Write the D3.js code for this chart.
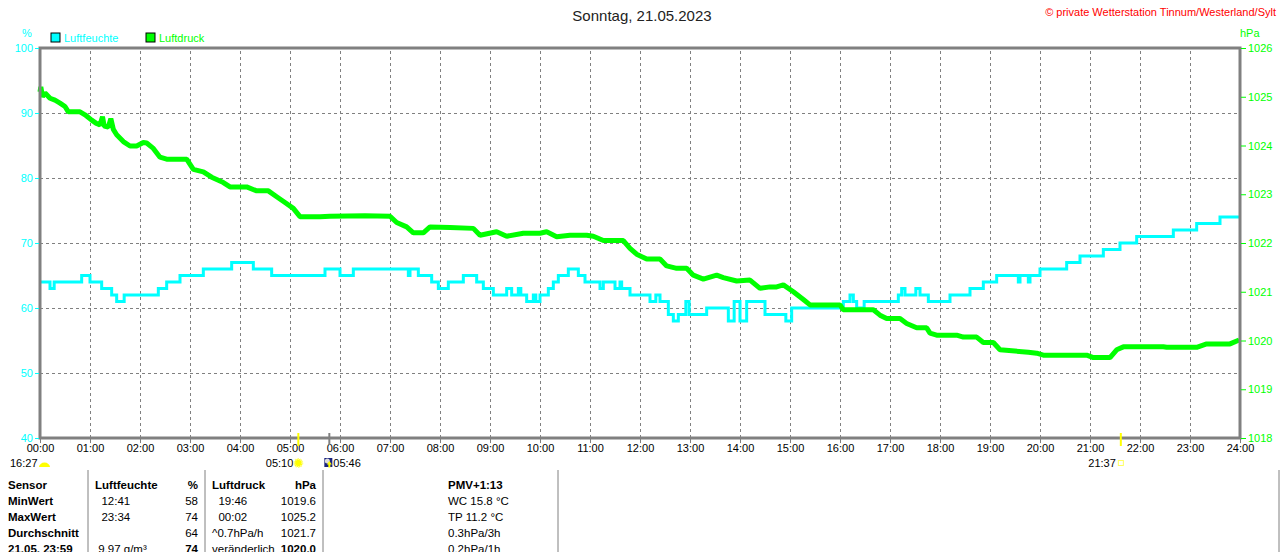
<!DOCTYPE html>
<html>
<head>
<meta charset="utf-8">
<script src="https://cdn.jsdelivr.net/npm/d3@7.9.0/dist/d3.min.js"></script>
<style>
  body { margin: 0; background: #fff; }
  svg { display: block; font-family: "Liberation Sans", Arial, sans-serif; }
  .grid line { stroke: #808080; stroke-dasharray: 3,3; }
  .grid .domain { display: none; }
  .tbl text { font-size: 11.5px; fill: #000; }
  .tbl .b { font-weight: bold; }
</style>
</head>
<body>
<div id="chart"></div>
<script>
// ---------- Data ----------
const hourLabels = d3.range(0, 25).map(h => String(h).padStart(2, "0") + ":00");
const humTicks = [40, 50, 60, 70, 80, 90, 100];
const presTicks = [1018, 1019, 1020, 1021, 1022, 1023, 1024, 1025, 1026];

// Luftfeuchte (%) - change points [time, value]
const luftfeuchte = [
  ["00:00",64],["00:12",63],["00:17",64],["00:50",65],["01:00",64],["01:14",63],["01:26",62],
  ["01:32",61],["01:41",62],["02:22",63],["02:32",64],["02:48",65],["03:16",66],["03:50",67],
  ["04:16",66],["04:38",65],["05:42",66],["06:00",65],["06:16",66],["07:22",65],["07:24",66],
  ["07:34",65],["07:50",64],["07:58",63],["08:10",64],["08:28",65],["08:44",64],["08:52",63],
  ["09:04",62],["09:20",63],["09:26",62],["09:34",63],["09:37",62],["09:44",61],["09:52",62],
  ["09:55",61],["10:00",62],["10:10",63],["10:16",64],["10:22",65],["10:34",66],["10:46",65],
  ["10:54",64],["11:12",63],["11:16",64],["11:30",63],["11:36",64],["11:38",63],["11:48",62],
  ["12:12",61],["12:19",62],["12:24",61],["12:34",59],["12:40",58],["12:46",59],["12:55",61],
  ["12:59",59],["13:20",60],["13:46",58],["13:53",61],["14:00",58],["14:08",61],["14:30",59],
  ["14:55",58],["15:02",60],["16:04",61],["16:12",62],["16:16",61],["16:20",60],["16:29",61],
  ["17:10",62],["17:14",63],["17:18",62],["17:31",63],["17:36",62],["17:46",61],["18:12",62],
  ["18:36",63],["18:52",64],["19:08",65],["19:34",64],["19:36",65],["19:46",64],["19:48",65],
  ["20:00",66],["20:32",67],["20:48",68],["21:16",69],["21:36",70],["21:56",71],["22:40",72],
  ["23:08",73],["23:36",74],["24:00",74]
];

// Luftdruck (hPa) - readings [time, value]
const luftdruck = [
  ["00:00",1025.10],["00:01",1025.20],["00:03",1025.00],["00:06",1025.08],["00:12",1024.97],
  ["00:18",1024.93],["00:24",1024.87],["00:30",1024.80],["00:34",1024.69],["00:48",1024.69],
  ["00:54",1024.63],["01:02",1024.52],["01:08",1024.45],["01:12",1024.42],["01:15",1024.59],
  ["01:17",1024.40],["01:22",1024.38],["01:25",1024.55],["01:28",1024.33],["01:32",1024.22],
  ["01:40",1024.08],["01:48",1023.99],["01:56",1023.99],["02:04",1024.06],["02:08",1024.05],
  ["02:16",1023.94],["02:24",1023.76],["02:32",1023.72],["02:56",1023.72],["03:04",1023.51],
  ["03:16",1023.46],["03:26",1023.35],["03:40",1023.24],["03:48",1023.15],["04:08",1023.15],
  ["04:20",1023.07],["04:34",1023.07],["04:44",1022.95],["04:54",1022.83],["05:04",1022.71],
  ["05:12",1022.54],["05:36",1022.54],["05:48",1022.55],["06:30",1022.56],["07:00",1022.55],
  ["07:08",1022.42],["07:20",1022.33],["07:28",1022.21],["07:40",1022.21],["07:48",1022.33],
  ["08:12",1022.32],["08:40",1022.30],["08:48",1022.16],["09:08",1022.23],["09:20",1022.14],
  ["09:40",1022.20],["10:00",1022.20],["10:08",1022.23],["10:20",1022.13],["10:36",1022.16],
  ["10:56",1022.16],["11:04",1022.14],["11:16",1022.05],["11:40",1022.05],["11:48",1021.89],
  ["11:56",1021.77],["12:08",1021.67],["12:24",1021.67],["12:32",1021.53],["12:44",1021.48],
  ["12:56",1021.48],["13:04",1021.34],["13:16",1021.26],["13:32",1021.34],["13:40",1021.29],
  ["13:56",1021.22],["14:12",1021.24],["14:24",1021.07],["14:36",1021.10],["14:44",1021.10],
  ["14:52",1021.14],["15:04",1021.00],["15:16",1020.84],["15:24",1020.73],["16:00",1020.73],
  ["16:04",1020.63],["16:40",1020.63],["16:48",1020.52],["16:56",1020.45],["17:12",1020.45],
  ["17:20",1020.35],["17:32",1020.26],["17:44",1020.26],["17:48",1020.15],["17:56",1020.11],
  ["18:20",1020.11],["18:28",1020.07],["18:44",1020.07],["18:52",1019.96],["19:04",1019.96],
  ["19:12",1019.81],["19:46",1019.76],["19:56",1019.74],["20:04",1019.70],["20:56",1019.70],
  ["21:04",1019.65],["21:24",1019.65],["21:32",1019.81],["21:40",1019.87],["22:28",1019.87],
  ["22:32",1019.86],["23:08",1019.86],["23:20",1019.93],["23:48",1019.93],["23:59",1020.01]
];

// sun / moon markers under the time axis
const markers = [
  { time: "05:10", label: "05:10", kind: "sunrise" },
  { time: "05:46", label: "05:46", kind: "moon" },
  { time: "21:37", label: "21:37", kind: "sunset" }
];

// table rows
const tableRows = [
  ["Sensor", "Luftfeuchte", "%", "Luftdruck", "hPa", "PMV+1:13"],
  ["MinWert", "  12:41", "58", "  19:46", "1019.6", "WC 15.8 °C"],
  ["MaxWert", "  23:34", "74", "  00:02", "1025.2", "TP 11.2 °C"],
  ["Durchschnitt", "", "64", "^0.7hPa/h", "1021.7", "0.3hPa/3h"],
  ["21.05. 23:59", " 9.97 g/m³", "74", "veränderlich", "1020.0", "0.2hPa/1h"]
];

// ---------- Helpers ----------
const toHours = s => { const [h, m] = s.split(":").map(Number); return h + m / 60; };

// ---------- Chart ----------
const width = 1280, height = 552;
const plot = { left: 40, right: 1240, top: 48, bottom: 438 };
const CYAN = "#00ffff", GREEN = "#00ff00", GRAY = "#808080";

const svg = d3.select("#chart").append("svg")
  .attr("width", width).attr("height", height);

const x = d3.scaleLinear().domain([0, 24]).range([plot.left, plot.right]);
const yHum = d3.scaleLinear().domain([40, 100]).range([plot.bottom, plot.top]);
const yPres = d3.scaleLinear().domain([1018, 1026]).range([plot.bottom, plot.top]);

// title + credit
svg.append("text").attr("x", 642).attr("y", 21).attr("text-anchor", "middle")
  .style("font-size", "15px").attr("fill", "#222").text("Sonntag, 21.05.2023");
svg.append("text").attr("x", 1276).attr("y", 16).attr("text-anchor", "end")
  .style("font-size", "11px").attr("fill", "#ff0000")
  .text("© private Wetterstation Tinnum/Westerland/Sylt");

// unit labels
svg.append("text").attr("x", 27).attr("y", 37).attr("text-anchor", "middle")
  .style("font-size", "11px").attr("fill", CYAN).text("%");
svg.append("text").attr("x", 1240).attr("y", 37)
  .style("font-size", "11px").attr("fill", GREEN).text("hPa");

// legend
const legend = [["Luftfeuchte", CYAN, 51], ["Luftdruck", GREEN, 146]];
legend.forEach(([name, col, lx]) => {
  svg.append("rect").attr("x", lx).attr("y", 33).attr("width", 9).attr("height", 9)
    .attr("fill", col).attr("stroke", "#000").attr("stroke-width", 1);
  svg.append("text").attr("x", lx + 13).attr("y", 42)
    .style("font-size", "11px").attr("fill", col).text(name);
});

// grid
svg.append("g").attr("class", "grid")
  .attr("transform", `translate(0,${plot.bottom})`)
  .call(d3.axisBottom(x).tickValues(d3.range(1, 24)).tickFormat("").tickSize(-(plot.bottom - plot.top)));
svg.append("g").attr("class", "grid")
  .attr("transform", `translate(${plot.left},0)`)
  .call(d3.axisLeft(yHum).tickValues(humTicks.slice(1, -1)).tickFormat("").tickSize(-(plot.right - plot.left)));

// lines
const humLine = d3.line()
  .x(d => x(toHours(d[0]))).y(d => yHum(d[1]))
  .curve(d3.curveStepAfter);
const presLine = d3.line()
  .x(d => x(toHours(d[0]))).y(d => yPres(d[1]));

svg.append("path").datum(luftfeuchte).attr("d", humLine)
  .attr("fill", "none").attr("stroke", CYAN).attr("stroke-width", 3);
svg.append("path").datum(luftdruck).attr("d", presLine)
  .attr("fill", "none").attr("stroke", GREEN).attr("stroke-width", 5)
  .attr("stroke-linejoin", "bevel");

// frame
svg.append("rect").attr("x", plot.left).attr("y", plot.top)
  .attr("width", plot.right - plot.left).attr("height", plot.bottom - plot.top)
  .attr("fill", "none").attr("stroke", GRAY).attr("stroke-width", 3);

// left axis
const gl = svg.append("g").attr("transform", `translate(${plot.left - 1},0)`)
  .call(d3.axisLeft(yHum).tickValues(humTicks).tickSize(4).tickPadding(2));
gl.select(".domain").remove();
gl.selectAll("line").attr("stroke", CYAN);
gl.selectAll("text").attr("fill", CYAN).style("font-size", "11px").attr("font-family", null);

// right axis
const gr = svg.append("g").attr("transform", `translate(${plot.right + 1},0)`)
  .call(d3.axisRight(yPres).tickValues(presTicks).tickFormat(d3.format("d")).tickSize(5).tickPadding(2));
gr.select(".domain").remove();
gr.selectAll("line").attr("stroke", GREEN);
gr.selectAll("text").attr("fill", GREEN).style("font-size", "11px").attr("font-family", null);

// bottom axis
const gb = svg.append("g").attr("transform", `translate(0,${plot.bottom + 1})`)
  .call(d3.axisBottom(x).tickValues(d3.range(0, 25)).tickFormat((d, i) => hourLabels[i]).tickSize(4).tickPadding(1));
gb.select(".domain").remove();
gb.selectAll("line").attr("stroke", GRAY);
gb.selectAll("text").attr("fill", "#000").style("font-size", "11px").attr("font-family", null);

// previous-day moon marker at the left
svg.append("text").attr("x", 10).attr("y", 467).style("font-size", "11px").text("16:27");
svg.append("path").attr("d", "M39,467 a5,4 0 0 1 11,0 z").attr("fill", "#ffff00");

// sun / moon markers
markers.forEach(m => {
  const mx = x(toHours(m.time));
  if (m.kind === "moon") {
    svg.append("line").attr("x1", mx + 1).attr("x2", mx + 1).attr("y1", 433).attr("y2", 445)
      .attr("stroke", GRAY).attr("stroke-width", 2);
    svg.append("rect").attr("x", mx - 4).attr("y", 458).attr("width", 8).attr("height", 9).attr("fill", "#1a237e");
    svg.append("circle").attr("cx", mx - 1).attr("cy", 461).attr("r", 2.5).attr("fill", "#ddd");
    svg.append("path").attr("d", `M${mx + 1},461 l-2.5,3.5 h1.5 v3 h2 v-3 h1.5 z`).attr("fill", "#ffff00");
    svg.append("text").attr("x", mx + 5).attr("y", 467).style("font-size", "11px").text(m.label);
  } else {
    svg.append("line").attr("x1", mx).attr("x2", mx).attr("y1", 433).attr("y2", 446)
      .attr("stroke", "#ffff00").attr("stroke-width", 2);
    svg.append("text").attr("x", mx - 5).attr("y", 467).attr("text-anchor", "end")
      .style("font-size", "11px").text(m.label);
    if (m.kind === "sunrise") {
      svg.append("circle").attr("cx", mx).attr("cy", 463).attr("r", 4).attr("fill", "#ffff00")
        .attr("stroke", "#ffff80").attr("stroke-width", 2).attr("stroke-dasharray", "1.5,1");
    } else {
      svg.append("rect").attr("x", mx - 2.5).attr("y", 460.5).attr("width", 5).attr("height", 5)
        .attr("fill", "none").attr("stroke", "#ffff60").attr("stroke-width", 1);
    }
  }
});

// ---------- Table ----------
const tbl = svg.append("g").attr("class", "tbl");
[88, 205, 323, 558, 1279].forEach(sx => {
  tbl.append("line").attr("x1", sx).attr("x2", sx).attr("y1", 470).attr("y2", 552)
    .attr("stroke", GRAY).attr("stroke-width", 1);
});
const cols = [
  { x: 8, anchor: "start" },
  { x: 95, anchor: "start" },
  { x: 198, anchor: "end" },
  { x: 212, anchor: "start" },
  { x: 316, anchor: "end" },
  { x: 448, anchor: "start" }
];
tableRows.forEach((row, r) => {
  const ty = 489 + r * 16;
  row.forEach((cell, c) => {
    const bold = r === 0 || c === 0 || (r === 4 && (c === 2 || c === 4));
    tbl.append("text")
      .attr("x", cols[c].x).attr("y", ty)
      .attr("text-anchor", cols[c].anchor)
      .attr("class", bold ? "b" : null)
      .attr("xml:space", "preserve")
      .text(cell);
  });
});
</script>
</body>
</html>
